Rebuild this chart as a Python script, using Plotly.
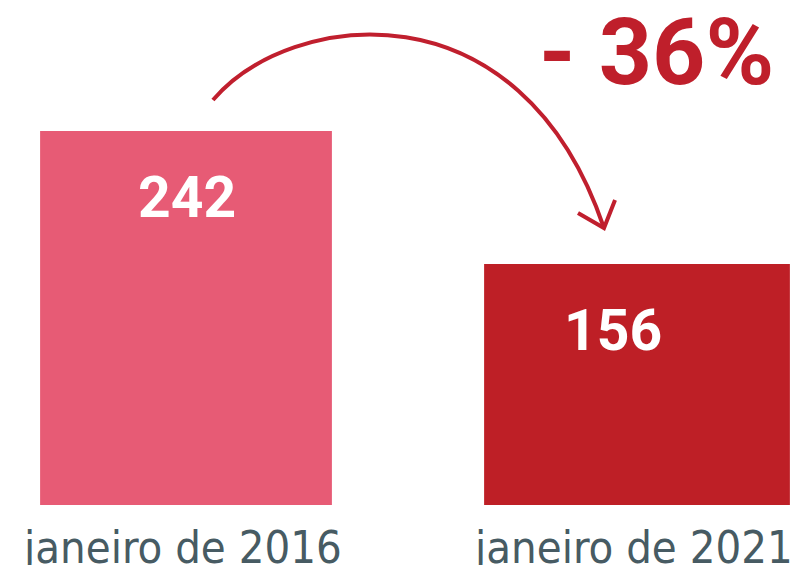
import plotly.graph_objects as go

categories = ["janeiro de 2016", "janeiro de 2021"]
values = [242, 156]
value_labels = ["242", "156"]
change_label = "- 36%"
bar_colors = ["#E75B75", "#BE1F26"]

W, H = 800, 565
MB = 60
PH = H - MB  # plot area height in px


def px(xp):
    return xp / W


def py(yp):
    return (PH - yp) / PH


fig = go.Figure()
fig.add_trace(go.Bar(
    x=categories, y=values,
    width=[0.647, 0.678],
    marker=dict(color=bar_colors, line=dict(width=0)),
    hoverinfo="skip",
))

annotations = []
shifts = [1, -24]
for c, v, t, s in zip(categories, values, value_labels, shifts):
    annotations.append(dict(
        x=c, y=v, xref="x", yref="y", text=t, showarrow=False,
        yanchor="top", yshift=-31, xshift=s,
        font=dict(family="Roboto, Liberation Sans, sans-serif", size=57, color="white", weight="bold"),
    ))
for c in categories:
    annotations.append(dict(
        x=c, y=0, xref="x", yref="y", text=c, showarrow=False,
        yanchor="top", yshift=-14, xshift=-4,
        font=dict(family="DejaVu Sans Condensed, sans-serif", size=45, color="#475B63"),
    ))
annotations.append(dict(
    x=px(656), y=py(53), xref="paper", yref="paper", text=change_label,
    showarrow=False, xanchor="center", yanchor="middle",
    font=dict(family="Roboto, Liberation Sans, sans-serif", size=93, color="#BF1F2B", weight="bold"),
))

# curved arrow (paper coordinates)
p0, p1, p2, p3 = (213, 100), (290, 10), (520, -20), (604, 228)
path = "M {:.4f},{:.4f} C {:.4f},{:.4f} {:.4f},{:.4f} {:.4f},{:.4f}".format(
    px(p0[0]), py(p0[1]), px(p1[0]), py(p1[1]), px(p2[0]), py(p2[1]), px(p3[0]), py(p3[1]))
head = "M {:.4f},{:.4f} L {:.4f},{:.4f} L {:.4f},{:.4f}".format(
    px(578), py(213), px(604), py(228), px(615), py(200))

shapes = [
    dict(type="path", xref="paper", yref="paper", path=path, line=dict(color="#C01F2E", width=4)),
    dict(type="path", xref="paper", yref="paper", path=head, line=dict(color="#C01F2E", width=4)),
]

fig.update_layout(
    width=W, height=H,
    margin=dict(l=0, r=0, t=0, b=MB, pad=0),
    paper_bgcolor="white", plot_bgcolor="white",
    showlegend=False,
    xaxis=dict(range=[-186 / 451, 614 / 451], showticklabels=False, showgrid=False,
               zeroline=False, showline=False, fixedrange=True),
    yaxis=dict(range=[0, PH / 1.5455], visible=False, fixedrange=True),
    annotations=annotations,
    shapes=shapes,
)

fig.write_html("out.html", config={"displayModeBar": False},
               post_script="document.body.style.margin='0';document.body.style.overflow='hidden';")
